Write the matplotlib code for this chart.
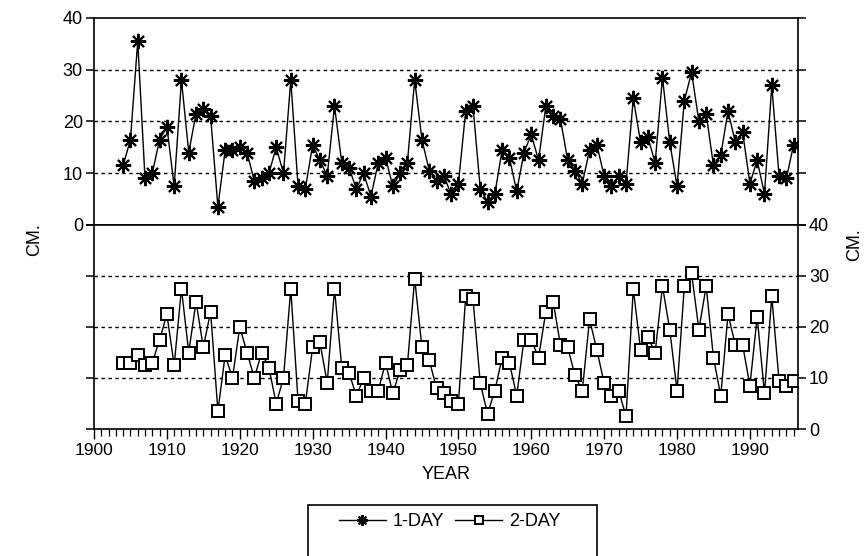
import numpy as np
import matplotlib
matplotlib.use('Agg')
import matplotlib.pyplot as plt
from matplotlib.patches import Rectangle
from matplotlib.ticker import MultipleLocator

plt.rcParams['font.family'] = ['Liberation Sans', 'DejaVu Sans']

# years of record
years = np.arange(1904, 1997)

# 1-day maximum (cm)
one_day = [11.5, 16.5, 35.5, 9, 10, 16.5, 19, 7.5, 28, 14,
           21.5, 22.5, 21, 3.5, 14.5, 14.5, 15, 14, 8.5, 9,
           10, 15, 10, 28, 7.5, 7, 15.5, 12.5, 9.5, 23,
           12, 11, 7, 10, 5.5, 12, 13, 7.5, 10, 12,
           28, 16.5, 10.5, 8.5, 9.5, 6, 8, 22, 23, 7,
           4.5, 6, 14.5, 13, 6.5, 14, 17.5, 12.5, 23, 21,
           20.5, 12.5, 10.5, 8, 14.5, 15.5, 9.5, 7.5, 9.5, 8,
           24.5, 16, 17, 12, 28.5, 16, 7.5, 24, 29.5, 20,
           21.5, 11.5, 13.5, 22, 16, 18, 8, 12.5, 6, 27,
           9.5, 9, 15.5]

# 2-day maximum (cm)
two_day = [13, 13, 14.5, 12.5, 13, 17.5, 22.5, 12.5, 27.5, 15,
           25, 16, 23, 3.5, 14.5, 10, 20, 15, 10, 15,
           12, 5, 10, 27.5, 5.5, 5, 16, 17, 9, 27.5,
           12, 11, 6.5, 10, 7.5, 7.5, 13, 7, 11.5, 12.5,
           29.5, 16, 13.5, 8, 7, 5.5, 5, 26, 25.5, 9,
           3, 7.5, 14, 13, 6.5, 17.5, 17.5, 14, 23, 25,
           16.5, 16, 10.5, 7.5, 21.5, 15.5, 9, 6.5, 7.5, 2.5,
           27.5, 15.5, 18, 15, 28, 19.5, 7.5, 28, 30.5, 19.5,
           28, 14, 6.5, 22.5, 16.5, 16.5, 8.5, 22, 7, 26,
           9.5, 8.5, 9.5]

yticks = [0, 10, 20, 30, 40]
decades = np.arange(1900, 2000, 10)

W, H = 864, 556
fig = plt.figure(figsize=(W / 100, H / 100), dpi=100)
left = 94 / W
width = (798 - 94) / W
ax1 = fig.add_axes([left, 1 - 225 / H, width, (225 - 18) / H])
ax2 = fig.add_axes([left, 1 - 429 / H, width, (429 - 225) / H])

l1, = ax1.plot(years, one_day, color='black', lw=1.0, marker=(8, 2, 0),
               ms=11, mew=1.5, label='1-DAY')
l2, = ax2.plot(years, two_day, color='black', lw=1.0, marker='s',
               ms=8.5, mfc='white', mec='black', mew=1.4, label='2-DAY')

for ax in (ax1, ax2):
    ax.set_xlim(1900, 1996.6)
    ax.set_ylim(0, 40)
    ax.set_yticks(yticks)
    for v in (10, 20, 30):
        ax.axhline(v, color='black', lw=1.0, ls=(0, (2.5, 2.5)), zorder=0)
    for s in ax.spines.values():
        s.set_linewidth(1.2)
    ax.tick_params(axis='y', direction='out', length=6, width=1.1,
                   labelsize=13, left=True, right=True, pad=2)

ax1.tick_params(axis='y', labelleft=True, labelright=False)
ax1.tick_params(axis='x', bottom=False, labelbottom=False)

ax2.tick_params(axis='y', labelleft=False, labelright=True)
ax2.set_xticks(decades)
ax2.xaxis.set_minor_locator(MultipleLocator(1))
ax2.tick_params(axis='x', which='major', direction='out', length=7, width=1.0,
                labelsize=12.5, pad=3)
ax2.tick_params(axis='x', which='minor', direction='out', length=5, width=0.9)
ax2.set_xlabel('YEAR', fontsize=13, labelpad=6)

fig.text(35 / W, 1 - 240 / H, 'CM.', rotation=90, fontsize=13,
         ha='center', va='center')
fig.text(855 / W, 1 - 245 / H, 'CM.', rotation=90, fontsize=13,
         ha='center', va='center')

# legend box, running off the bottom edge like the scan
fig.patches.append(Rectangle((308 / W, -0.05), (597 - 308) / W, 0.05 + 1 - 505 / H,
                             transform=fig.transFigure, fill=False,
                             edgecolor='black', lw=1.2))
leg = fig.legend(handles=[l1, l2], loc='center', ncol=2, frameon=False,
                 bbox_to_anchor=(450 / W, 1 - 522 / H), fontsize=13,
                 handlelength=2.6, handletextpad=0.4, columnspacing=0.6,
                 markerscale=0.7)

fig.savefig('out.png', dpi=100)
